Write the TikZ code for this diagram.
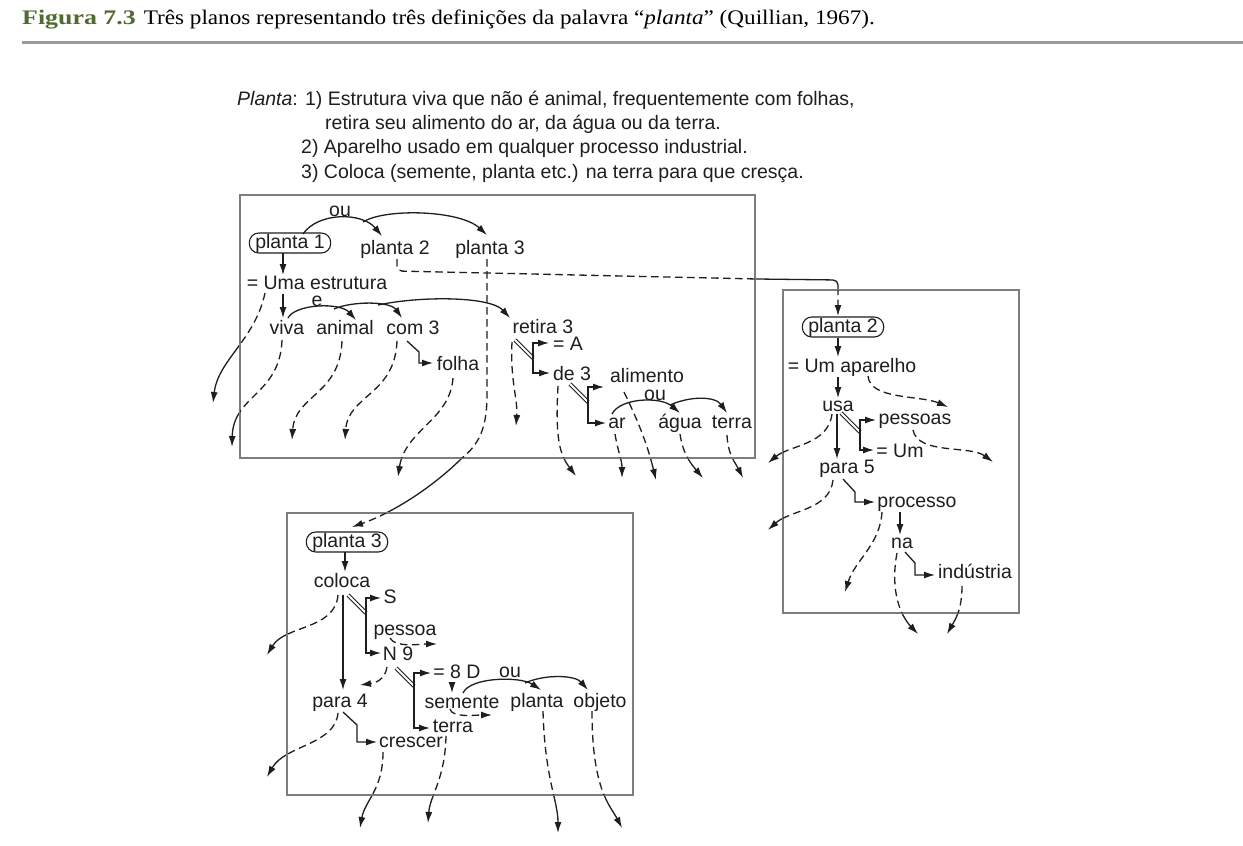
\documentclass[tikz,border=0pt]{standalone}
\usepackage{fontspec}
\setmainfont{Liberation Sans}
\newfontfamily\capserif[FakeStretch=1.12]{Liberation Serif}
\newfontfamily\capserifb[FakeStretch=1.25]{Liberation Serif}
\usetikzlibrary{arrows.meta}
\definecolor{figgreen}{RGB}{79,107,46}
\definecolor{ink}{RGB}{30,30,30}
\definecolor{boxgray}{RGB}{125,125,125}
\definecolor{rulegray}{RGB}{155,155,155}
\pgfdeclarelayer{layA}\pgfdeclarelayer{layB}\pgfdeclarelayer{layC}
\pgfsetlayers{layA,layB,layC,main}

\newcommand\outpaths[1]{%
 % box 1
 \draw[#1] ([shift={(-52,11)}]uma.center) .. controls (255,340) and (218,360) .. (x1);
 \draw[#1] ([shift={(-5,11)}]viva.center) .. controls (280,395) and (233,395) .. (x2);
 \draw[#1] ([shift={(-5,13)}]folha.center) .. controls (450,420) and (405,430) .. (x5);
 \draw[#1] ([shift={(-3,10)}]pl3.center) -- (487,395) .. controls (487,430) and (478,445) .. (462,458) .. controls (435,485) and (395,512) .. ([shift={(5,-15)}]p3.center);
 \draw[#1,rounded corners=5pt] ([shift={(2,10)}]pl2.center) -- (397,271) -- (757,279) -- (838,280) -- ([shift={(-5,-11)}]p2.center);
 \draw[#1] ([shift={(-14,11)}]de3.center) .. controls (555,440) and (560,455) .. (x9);
 \draw[#1] ([shift={(-2,11)}]ar.center) .. controls (618,452) and (622,460) .. (x10);
 \draw[#1] ([shift={(-23,15)}]alim.center) .. controls (640,425) and (648,447) .. (x11);
 \draw[#1] ([shift={(0,11)}]agua.center) .. controls (683,455) and (692,465) .. (x12);
 \draw[#1] ([shift={(-5,12)}]terA.center) .. controls (728,455) and (735,462) .. (x13);
 % box 2
 \draw[#1] ([shift={(-6,8)}]usa.center) .. controls (828,445) and (790,445) .. (y3);
 \draw[#1] ([shift={(-14,12)}]para5.center) .. controls (830,510) and (790,510) .. (y4);
 \draw[#1] ([shift={(-5,10)}]na.center) .. controls (890,590) and (900,615) .. (y6);
 \draw[#1] ([shift={(-13,13)}]ind.center) .. controls (962,610) and (955,620) .. (y7);
 % box 3
 \draw[#1] ([shift={(-4,13)}]coloca.center) .. controls (335,630) and (285,625) .. (z2);
 \draw[#1] ([shift={(-2,11)}]para4.center) .. controls (335,745) and (285,745) .. (z5);
 \draw[#1] ([shift={(-28,10)}]cres.center) .. controls (383,790) and (365,800) .. (z6);
 \draw[#1] ([shift={(-7,9)}]terB.center) .. controls (445,780) and (430,795) .. (z7);
 \draw[#1] ([shift={(6,9)}]plt.center) .. controls (545,780) and (558,800) .. (z8);
 \draw[#1] ([shift={(-8,9)}]obj.center) .. controls (592,790) and (610,805) .. (z9);
}

\begin{document}
\begin{tikzpicture}[x=1pt,y=-1pt,
  txt/.style={font=\fontsize{19.5}{23}\selectfont, text=ink, inner sep=0pt, text height=14pt, text depth=4pt},
  pill/.style={txt, draw=ink, line width=1.1pt, rounded corners=9.5pt, inner xsep=6pt, inner ysep=1pt},
  ln/.style={draw=ink, line width=1.3pt},
  arr/.style={ln, -{Latex[length=11pt,width=7pt]}},
  sol/.style={arr},
  dsh/.style={arr, dash pattern=on 7.5pt off 4.5pt},
  dbl/.style={draw=ink, double=white, line width=0.95pt, double distance=2pt},
  frame/.style={draw=boxgray, line width=1.4pt, fill=white}]

\useasboundingbox (0,0) rectangle (1243,846);

% ---------- free end coordinates ----------
\coordinate (x1) at (213,403);
\coordinate (x2) at (232,447);
\coordinate (x3) at (292,440);
\coordinate (x4) at (345,440);
\coordinate (x5) at (398,477);
\coordinate (x8) at (516,426);
\coordinate (x9) at (576,476);
\coordinate (x10) at (622,478);
\coordinate (x11) at (656,480);
\coordinate (x12) at (703,478);
\coordinate (x13) at (743,478);
\coordinate (y1) at (948,407);
\coordinate (y2) at (993,462);
\coordinate (y3) at (768,463);
\coordinate (y4) at (768,530);
\coordinate (y5) at (845,592);
\coordinate (y6) at (918,634);
\coordinate (y7) at (947,634);
\coordinate (z1) at (437,644);
\coordinate (z2) at (267,655);
\coordinate (z3) at (360,685);
\coordinate (z4) at (492,715);
\coordinate (z5) at (267,777);
\coordinate (z6) at (360,828);
\coordinate (z7) at (428,823);
\coordinate (z8) at (558,833);
\coordinate (z9) at (622,828);
\coordinate (jA) at (363,222);
\coordinate (jB) at (334,309);
\coordinate (jC) at (378,305);
\coordinate (jD) at (525,683);
\coordinate (r1) at (22,42);
\coordinate (r2) at (1243,42);

% ---------- caption ----------
\node[anchor=west, inner sep=0pt] (cap) at (22,19) {\fontsize{20.7}{24}\selectfont{\capserifb\bfseries\color{figgreen}Figura 7.3}\hspace{8pt}{\capserif Três planos representando três definições da palavra “\textit{planta}” (Quillian, 1967).}};
\draw[rulegray, line width=3pt] (r1) -- (r2);

% ---------- definitions ----------
\node[txt,anchor=west] (d1) at (237,100) {\textit{Planta}: 1) Estrutura viva que não é animal, frequentemente com folhas,};
\node[txt,anchor=west] (d2) at (325,124) {retira seu alimento do ar, da água ou da terra.};
\node[txt,anchor=west] (d3) at (301,148) {2) Aparelho usado em qualquer processo industrial.};
\node[txt,anchor=west] (d4) at (301,173) {3) Coloca (semente, planta etc.) na terra para que cresça.};

% ---------- box 1 nodes ----------
\node[txt] (ou1) at (340,211) {ou};
\node[pill] (p1) at (290,243) {planta 1};
\node[txt] (pl2) at (395,249) {planta 2};
\node[txt] (pl3) at (490,249) {planta 3};
\node[txt, text depth=0pt] (uma) at (317,282) {= Uma estrutura};
\node[txt, text height=9pt, text depth=0pt] (e1) at (317,302) {e};
\node[txt] (viva) at (287,329) {viva};
\node[txt] (animal) at (345,329) {animal};
\node[txt] (com3) at (413,329) {com 3};
\node[txt] (folha) at (458,365) {folha};
\node[txt] (retira) at (543,328) {retira 3};
\node[txt] (eqA) at (568,345) {= A};
\node[txt] (de3) at (572,375) {de 3};
\node[txt] (alim) at (647,377) {alimento};
\node[txt] (ou2) at (655,395) {ou};
\node[txt] (ar) at (617,423) {ar};
\node[txt] (agua) at (680,423) {água};
\node[txt] (terA) at (732,423) {terra};

% ---------- box 2 nodes ----------
\node[pill] (p2) at (843,327) {planta 2};
\node[txt] (apar) at (852,367) {= Um aparelho};
\node[txt] (usa) at (838,406) {usa};
\node[txt] (pess) at (915,419) {pessoas};
\node[txt] (eqUm) at (900,452) {= Um};
\node[txt] (para5) at (847,468) {para 5};
\node[txt] (proc) at (917,502) {processo};
\node[txt] (na) at (902,543) {na};
\node[txt] (ind) at (975,573) {indústria};

% ---------- box 3 nodes ----------
\node[pill] (p3) at (347,542) {planta 3};
\node[txt] (coloca) at (342,582) {coloca};
\node[txt] (S) at (390,598) {S};
\node[txt] (pessoa) at (405,630) {pessoa};
\node[txt] (N9) at (398,655) {N 9};
\node[txt] (eq8D) at (457,673) {= 8 D};
\node[txt] (ou3) at (510,672) {ou};
\node[txt] (para4) at (340,702) {para 4};
\node[txt] (sem) at (462,703) {semente};
\node[txt] (plt) at (537,702) {planta};
\node[txt] (obj) at (600,702) {objeto};
\node[txt] (terB) at (453,727) {terra};
\node[txt] (cres) at (411,742) {crescer};

% ---------- layers: background, solid outer parts, boxes, dashed inner parts ----------
\begin{pgfonlayer}{layA}
 \fill[white] (0,0) rectangle (1243,846);
 \outpaths{sol}
\end{pgfonlayer}
\begin{pgfonlayer}{layB}
 \draw[frame] (240,195) rectangle (755,458);
 \draw[frame] (783,290) rectangle (1019,613);
 \draw[frame] (287,513) rectangle (633,795);
\end{pgfonlayer}
\begin{pgfonlayer}{layC}
 \begin{scope}
  \clip (240,195) rectangle (755,458) (783,290) rectangle (1019,613) (287,513) rectangle (633,795);
  \outpaths{dsh}
 \end{scope}
 % dashed connectors that stay inside their box
 \draw[dsh] ([shift={(-3,12)}]animal.center) .. controls (340,395) and (295,395) .. (x3);
 \draw[dsh] ([shift={(-16,12)}]com3.center) .. controls (395,395) and (348,395) .. (x4);
 \draw[dsh] ([shift={(-31,14)}]retira.center) .. controls (510,380) and (518,400) .. (x8);
 \draw[dsh] ([shift={(16,9)}]apar.center) .. controls (870,400) and (920,395) .. (y1);
 \draw[dsh] ([shift={(-2,11)}]pess.center) .. controls (918,455) and (970,445) .. (y2);
 \draw[dsh] ([shift={(-35,10)}]proc.center) .. controls (880,545) and (855,560) .. (y5);
 \draw[dsh] ([shift={(-15,8)}]pessoa.center) .. controls (395,648) and (420,644) .. (z1);
 \draw[dsh] ([shift={(-11,12)}]N9.center) .. controls (385,680) and (375,683) .. (z3);
 \draw[dsh] ([shift={(-12,6)}]sem.center) .. controls (452,718) and (475,715) .. (z4);
\end{pgfonlayer}

% ---------- box 1 solid connectors ----------
\draw[arr] ([shift={(13,-9)}]p1.center) .. controls (318,212) and (362,212) .. ([shift={(-13,-13)}]pl2.center);
\draw[arr] (jA) .. controls (385,208) and (460,210) .. ([shift={(-3,-14)}]pl3.center);
\draw[arr] ([shift={(-7,10)}]p1.center) -- ([shift={(-34,-7)}]uma.center);
\draw[arr] ([shift={(-34,12)}]uma.center) -- ([shift={(-4,-11)}]viva.center);
\draw[arr] ([shift={(1,-11)}]viva.center) .. controls (295,304) and (340,302) .. ([shift={(11,-9)}]animal.center);
\draw[arr] (jB) .. controls (352,301) and (390,301) .. ([shift={(-11,-11)}]com3.center);
\draw[arr] (jC) .. controls (420,296) and (490,296) .. ([shift={(-33,-10)}]retira.center);
\draw[arr] ([shift={(-6,12)}]com3.center) -- ++(12,11) -- ++(0,11) -- ([shift={(-25,-2)}]folha.center);
\draw[dbl] ([shift={(-28,12)}]retira.center) -- ++(18,18);
\draw[arr] ([shift={(-10,30)}]retira.center) |- ([shift={(-19,-2)}]eqA.center);
\draw[arr] ([shift={(-10,30)}]retira.center) |- ([shift={(-22,-2)}]de3.center);
\draw[dbl] ([shift={(-2,9)}]de3.center) -- ++(18,18);
\draw[arr] ([shift={(16,27)}]de3.center) |- ([shift={(-43,10)}]alim.center);
\draw[arr] ([shift={(16,27)}]de3.center) |- ([shift={(-11,0)}]ar.center);
\draw[arr] ([shift={(-5,-9)}]ar.center) .. controls (620,398) and (660,396) .. ([shift={(0,-10)}]agua.center);
\draw[arr] (670,405) .. controls (690,396) and (715,396) .. ([shift={(-5,-10)}]terA.center);

% ---------- box 2 solid connectors ----------
\draw[arr] ([shift={(-5,11)}]p2.center) -- ([shift={(-14,-10)}]apar.center);
\draw[arr] ([shift={(-14,10)}]apar.center) -- ([shift={(0,-8)}]usa.center);
\draw[dbl] ([shift={(3,7)}]usa.center) -- ++(19,19);
\draw[arr] ([shift={(22,26)}]usa.center) |- ([shift={(-39,1)}]pess.center);
\draw[arr] ([shift={(22,26)}]usa.center) |- ([shift={(-26,-2)}]eqUm.center);
\draw[arr] ([shift={(-1,8)}]usa.center) -- ([shift={(-10,-9)}]para5.center);
\draw[arr] ([shift={(-4,11)}]para5.center) -- ++(12,13) -- ++(0,10) -- ([shift={(-42,0)}]proc.center);
\draw[arr] ([shift={(-17,10)}]proc.center) -- ([shift={(-2,-8)}]na.center);
\draw[arr] ([shift={(3,9)}]na.center) -- ++(10,11) -- ++(0,12) -- ([shift={(-40,2)}]ind.center);

% ---------- box 3 solid connectors ----------
\draw[arr] ([shift={(-2,10)}]p3.center) -- ([shift={(3,-10)}]coloca.center);
\draw[dbl] ([shift={(6,13)}]coloca.center) -- ++(18,18);
\draw[arr] ([shift={(24,31)}]coloca.center) |- ([shift={(-9,0)}]S.center);
\draw[arr] ([shift={(24,31)}]coloca.center) |- ([shift={(-17,-2)}]N9.center);
\draw[arr] ([shift={(1,13)}]coloca.center) -- ([shift={(3,-12)}]para4.center);
\draw[dbl] ([shift={(-2,13)}]N9.center) -- ++(18,18);
\draw[arr] ([shift={(16,31)}]N9.center) |- ([shift={(-26,0)}]eq8D.center);
\draw[arr] ([shift={(16,31)}]N9.center) |- ([shift={(-23,1)}]terB.center);
\draw[arr] ([shift={(-5,9)}]eq8D.center) -- ([shift={(-10,-10)}]sem.center);
\draw[arr] ([shift={(1,-10)}]sem.center) .. controls (470,677) and (520,676) .. ([shift={(4,-12)}]plt.center);
\draw[arr] (jD) .. controls (545,674) and (575,675) .. ([shift={(-12,-12)}]obj.center);
\draw[arr] ([shift={(3,10)}]para4.center) -- ++(14,13) -- ++(0,17) -- ([shift={(-34,0)}]cres.center);

\end{tikzpicture}
\end{document}
